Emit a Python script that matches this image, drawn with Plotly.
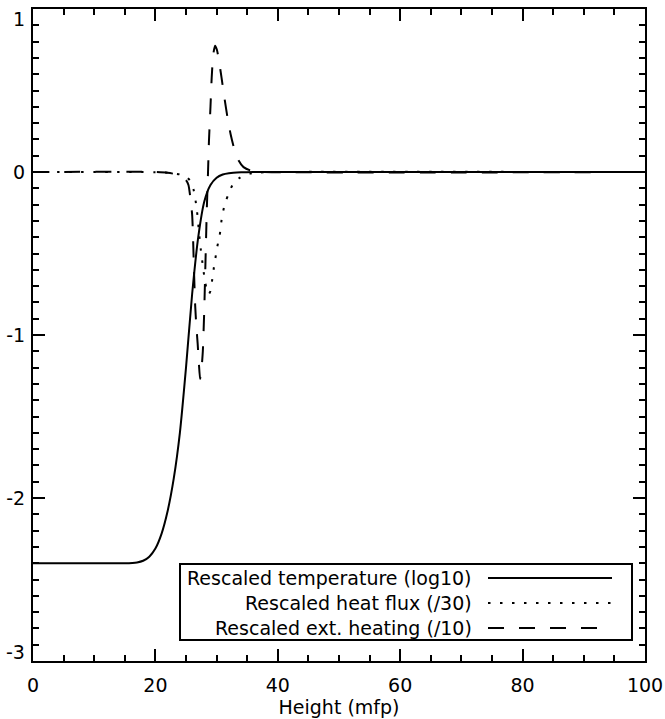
import plotly.graph_objects as go

# ---------------- data ----------------
temp_x = [0, 10, 15, 17, 18, 19, 20, 21, 22, 23, 24, 25, 26, 27, 28, 29, 30, 31, 32, 34, 36, 40, 100]
temp_y = [-2.40, -2.40, -2.40, -2.395, -2.385, -2.36, -2.31, -2.22, -2.08, -1.88, -1.60, -1.20, -0.75,
          -0.40, -0.18, -0.08, -0.035, -0.015, -0.007, -0.002, 0.0, 0.0, 0.0]

flux_x = [0, 20, 22, 24, 25, 25.6, 26.0, 26.25, 26.5, 26.8, 27.1, 27.4, 27.7, 28.1, 28.4, 28.7, 29.0,
          29.25, 29.5, 29.8, 30.1, 30.5, 30.9, 31.4, 31.9, 32.6, 33.6, 34.5, 35.5, 37, 40, 100]
flux_y = [0, -0.001, -0.004, -0.015, -0.03, -0.05, -0.08, -0.11, -0.16, -0.24, -0.36, -0.47, -0.56,
          -0.67, -0.72, -0.75, -0.73, -0.67, -0.60, -0.53, -0.46, -0.39, -0.27, -0.19, -0.14, -0.08,
          -0.04, -0.02, -0.01, -0.003, 0, 0]

heat_x = [0, 20, 22, 24, 25, 25.4, 25.65, 26.0, 26.15, 26.3, 26.5, 26.7, 26.9, 27.1, 27.3, 27.55,
          27.75, 27.98, 28.15, 28.4, 28.6, 28.75, 29.0, 29.2, 29.45, 29.75, 30.05, 30.4, 30.8, 31.3,
          31.8, 32.3, 32.9, 33.6, 34.4, 35.5, 37, 100]
heat_y = [0, 0, -0.005, -0.02, -0.05, -0.08, -0.14, -0.26, -0.40, -0.60, -0.82, -0.95, -1.05, -1.17,
          -1.27, -1.20, -1.10, -0.85, -0.60, -0.23, 0.0, 0.19, 0.40, 0.58, 0.72, 0.775, 0.75, 0.68,
          0.58, 0.45, 0.33, 0.23, 0.14, 0.07, 0.03, 0.01, 0.002, 0]

series_names = ["Rescaled temperature (log10)", "Rescaled heat flux (/30)", "Rescaled ext. heating (/10)"]
series_dash = ["solid", "2.5px,9.5px", "16px,15px"]

x_ticks = [0, 20, 40, 60, 80, 100]
x_ticktext = ["0", "20", "40", "60", "80", "100"]
# interior y labels drawn by the axis; the two end labels are nudged inward (as in the reference)
y_ticks = [-3, -2, -1, 0, 1]
y_ticktext = ["-3", "-2", "-1", "0", "1"]

FONT = "DejaVu Sans"

fig = go.Figure()
for xs, ys, name, dash in zip([temp_x, flux_x, heat_x], [temp_y, flux_y, heat_y], series_names, series_dash):
    fig.add_trace(go.Scatter(x=xs, y=ys, mode="lines", name=name,
                             line=dict(color="black", width=2, dash=dash, shape="spline", smoothing=0.6),
                             showlegend=False, hoverinfo="skip"))

axis_common = dict(showline=True, linecolor="black", linewidth=2, mirror="allticks",
                   ticks="inside", ticklen=12, tickwidth=1.5, tickcolor="black",
                   showgrid=False, zeroline=False, ticklabeloverflow="allow", automargin=False,
                   tickfont=dict(family=FONT, size=19, color="black"))

axis_labels = ["" if v in (y_ticks[0], y_ticks[-1]) else t for v, t in zip(y_ticks, y_ticktext)]

fig.update_layout(
    width=665, height=719, autosize=False,
    margin=dict(l=33, r=20, t=9, b=58),
    paper_bgcolor="white", plot_bgcolor="white",
    font=dict(family=FONT, size=19, color="black"),
    xaxis=dict(range=[0, 100], tickvals=x_ticks, ticktext=x_ticktext,
               minor=dict(ticks="inside", dtick=5, tick0=0, ticklen=6, tickwidth=1.5, tickcolor="black", showgrid=False),
               title=dict(text="Height (mfp)", standoff=2, font=dict(family=FONT, size=19)),
               ticklabelstandoff=6, **axis_common),
    yaxis=dict(range=[-3, 1], tickvals=y_ticks, ticktext=axis_labels,
               minor=dict(ticks="inside", dtick=0.1, tick0=0, ticklen=6, tickwidth=1.5, tickcolor="black", showgrid=False),
               ticklabelstandoff=2, **axis_common),
)

# end labels of the y axis, kept inside the picture
fig.add_annotation(xref="paper", yref="y", x=0, y=y_ticks[-1], text=y_ticktext[-1],
                   showarrow=False, xanchor="right", yanchor="top", xshift=-6, yshift=3,
                   font=dict(family=FONT, size=19, color="black"))
fig.add_annotation(xref="paper", yref="y", x=0, y=y_ticks[0], text=y_ticktext[0],
                   showarrow=False, xanchor="right", yanchor="bottom", xshift=-6, yshift=-4,
                   font=dict(family=FONT, size=19, color="black"))

# ---- legend drawn manually (text right-aligned, line sample on the right) ----
def px_x(p):
    return (p - 33) / 612.0

def px_y(p):
    return (661 - p) / 652.0

fig.add_shape(type="rect", xref="paper", yref="paper",
              x0=px_x(180), x1=px_x(632), y0=px_y(640), y1=px_y(564),
              fillcolor="white", line=dict(color="black", width=2), layer="above")
rows = [578, 603, 628]
for name, dash, row in zip(series_names, series_dash, rows):
    fig.add_annotation(xref="paper", yref="paper", x=px_x(474), y=px_y(row),
                       text=name, showarrow=False, xanchor="right", yanchor="middle",
                       font=dict(family=FONT, size=19, color="black"))
    fig.add_shape(type="line", xref="paper", yref="paper",
                  x0=px_x(488), x1=px_x(612), y0=px_y(row), y1=px_y(row),
                  line=dict(color="black", width=2, dash=dash), layer="above")

fig.write_html("out.html")
